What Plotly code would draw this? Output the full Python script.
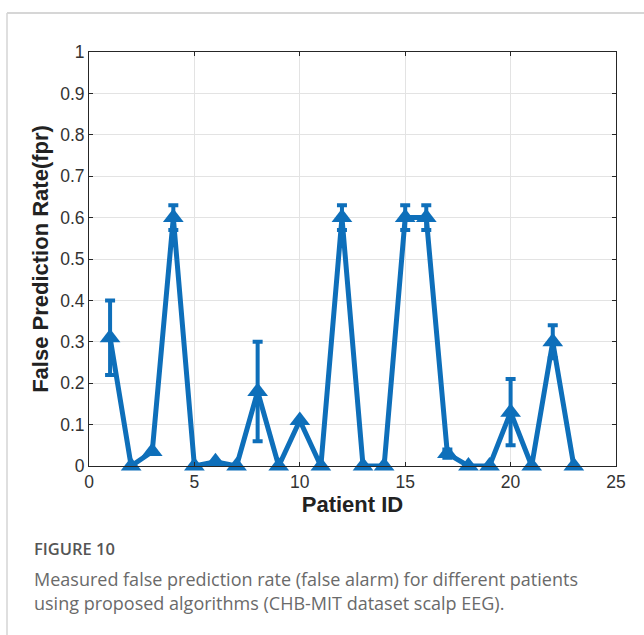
import plotly.graph_objects as go

patients = list(range(1, 24))
fpr = [0.31, 0.0, 0.035, 0.60, 0.0, 0.01, 0.0, 0.18, 0.0, 0.11, 0.0, 0.60,
       0.0, 0.0, 0.60, 0.60, 0.03, 0.0, 0.0, 0.13, 0.0, 0.30, 0.0]
err_plus = [0.09, 0.0, 0.0, 0.03, 0.0, 0.0, 0.0, 0.12, 0.0, 0.0, 0.0, 0.03,
            0.0, 0.0, 0.03, 0.03, 0.01, 0.0, 0.0, 0.08, 0.0, 0.04, 0.0]
err_minus = [0.09, 0.0, 0.0, 0.03, 0.0, 0.0, 0.0, 0.12, 0.0, 0.0, 0.0, 0.03,
             0.0, 0.0, 0.03, 0.03, 0.01, 0.0, 0.0, 0.08, 0.0, 0.04, 0.0]
x_ticks = [0, 5, 10, 15, 20, 25]
y_ticks = [0, 0.1, 0.2, 0.3, 0.4, 0.5, 0.6, 0.7, 0.8, 0.9, 1]
y_tick_labels = ["0", "0.1", "0.2", "0.3", "0.4", "0.5", "0.6", "0.7", "0.8", "0.9", "1"]

BLUE = "#0E6FBA"

# pixel geometry helpers
L, R, T, B = 89, 616, 52, 466
W, H = 644, 635
def px(x):
    return (x - L) / (R - L)
def py(y):
    return (B - y) / (B - T)

fig = go.Figure()
fig.add_trace(go.Scatter(
    x=patients, y=fpr, mode="lines+markers",
    line=dict(color=BLUE, width=5),
    marker=dict(symbol="triangle-up", size=18, color=BLUE),
    error_y=dict(type="data", array=err_plus, arrayminus=err_minus,
                 symmetric=False, color=BLUE, thickness=4, width=5),
    showlegend=False, cliponaxis=False,
))

tick_font = dict(family="Liberation Sans, Arial", size=17.5, color="#333333")
title_font = dict(family="Liberation Sans, Arial", size=22, color="#222222")
axis_common = dict(
    showline=True, linecolor="#262626", linewidth=1, mirror="ticks",
    ticks="inside", ticklen=4, tickcolor="#262626",
    showgrid=True, gridcolor="#E3E3E3", gridwidth=1, zeroline=False,
    tickfont=tick_font,
)
fig.update_xaxes(range=[0, 25], tickvals=x_ticks, **axis_common,
                 title=dict(text="<b>Patient ID</b>", standoff=5, font=title_font))
fig.update_yaxes(range=[0, 1], tickvals=y_ticks, ticktext=y_tick_labels, **axis_common,
                 title=dict(text="<b>False Prediction Rate(fpr)</b>", standoff=5, font=title_font))

# card frame lines
fig.add_shape(type="line", xref="paper", yref="paper",
              x0=px(7), x1=px(W + 5), y0=py(13), y1=py(13),
              line=dict(color="#C8C8C8", width=1.5))
fig.add_shape(type="line", xref="paper", yref="paper",
              x0=px(7), x1=px(7), y0=py(13), y1=py(H + 5),
              line=dict(color="#D5D5D5", width=1.5))

cap_font = "Open Sans, Lato, sans-serif"
fig.add_annotation(xref="paper", yref="paper", x=px(32), y=py(548),
                   xanchor="left", yanchor="middle", showarrow=False,
                   text="FIGURE 10",
                   font=dict(family=cap_font, size=16.5, color="#555555", weight=600))
fig.add_annotation(xref="paper", yref="paper", x=px(32), y=py(579),
                   xanchor="left", yanchor="middle", showarrow=False,
                   text="Measured false prediction rate (false alarm) for different patients",
                   font=dict(family=cap_font, size=18, color="#6A6A6A"))
fig.add_annotation(xref="paper", yref="paper", x=px(32), y=py(603),
                   xanchor="left", yanchor="middle", showarrow=False,
                   text="using proposed algorithms (CHB-MIT dataset scalp EEG).",
                   font=dict(family=cap_font, size=18, color="#6A6A6A"))

fig.update_layout(
    width=W, height=H,
    margin=dict(l=L, r=W - R, t=T, b=H - B, autoexpand=False),
    paper_bgcolor="white", plot_bgcolor="white",
)

fig.write_html("out.html", config={"displayModeBar": False},
               post_script="document.body.style.margin='0px';")
